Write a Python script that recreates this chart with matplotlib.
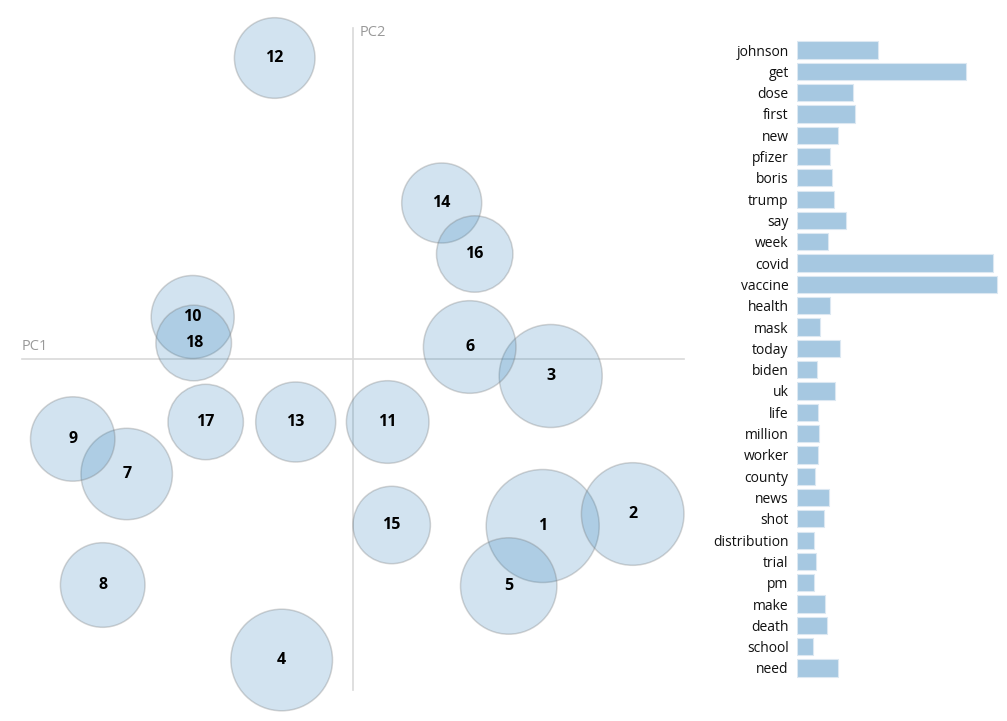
import matplotlib
matplotlib.use("Agg")
import matplotlib.pyplot as plt
from matplotlib.patches import Circle

# topic map: PC1 / PC2 coordinates and circle radius (same units)
topics = [1, 2, 3, 4, 5, 6, 7, 8, 9, 10, 11, 12, 13, 14, 15, 16, 17, 18]
pc1 = [0.190, 0.280, 0.198, -0.071, 0.156, 0.117, -0.226, -0.250, -0.280, -0.160,
       0.035, -0.078, -0.057, 0.089, 0.039, 0.122, -0.147, -0.159]
pc2 = [-0.167, -0.155, -0.017, -0.301, -0.227, 0.012, -0.115, -0.226, -0.080, 0.042,
       -0.063, 0.301, -0.063, 0.156, -0.166, 0.105, -0.063, 0.016]
radius = [0.0565, 0.0513, 0.0515, 0.0508, 0.0482, 0.0463, 0.0457, 0.0423, 0.0422, 0.0415,
          0.0413, 0.0403, 0.0400, 0.0400, 0.0387, 0.0382, 0.0377, 0.0378]

# top terms, overall frequency
terms = ["johnson", "get", "dose", "first", "new", "pfizer", "boris", "trump", "say", "week",
         "covid", "vaccine", "health", "mask", "today", "biden", "uk", "life", "million", "worker",
         "county", "news", "shot", "distribution", "trial", "pm", "make", "death", "school", "need"]
freq = [81, 169, 55.6, 57.6, 40.6, 33, 34.6, 37, 49.3, 30.6,
        196, 200, 33, 22.6, 43.3, 20, 38, 20.6, 21.6, 21.3,
        18, 32, 26.6, 17, 18.6, 16.6, 28.3, 30, 16, 40.6]

W, H = 1007, 721
fig = plt.figure(figsize=(W / 100, H / 100), dpi=100)

# ---- inter-topic distance map ----
ax = fig.add_axes([0, 0, 700 / W, 1])
ax.set_xlim(-0.3527, 0.3473)
ax.set_ylim(-0.362, 0.359)
ax.axis("off")

ax.plot([-0.331, 0.331], [0, 0], color="#d9d9d9", lw=1.2, zorder=0)
ax.plot([0, 0], [-0.331, 0.331], color="#d9d9d9", lw=1.2, zorder=0)
ax.text(-0.331, 0.005, "PC1", color="#999999", fontsize=10.5, family="Open Sans",
        ha="left", va="bottom")
ax.text(0.007, 0.327, "PC2", color="#999999", fontsize=10.5, family="Open Sans",
        ha="left", va="center")

for t, x, y, r in zip(topics, pc1, pc2, radius):
    ax.add_patch(Circle((x, y), r, facecolor=(0.122, 0.467, 0.706, 0.2),
                        edgecolor=(0.45, 0.45, 0.45, 0.3), lw=1.1))
    ax.text(x, y, str(t), ha="center", va="center", fontsize=11.5,
            fontweight="bold", family="Open Sans", color="#000000")

# ---- term bar chart ----
bx = fig.add_axes([797 / W, 1 - 678.65 / H, 210 / W, 639.3 / H])
ypos = list(range(len(terms)))
bx.barh(ypos, freq, height=0.81, color="#a6c8e1", edgecolor="#dce8f2", lw=0.8)
bx.set_xlim(0, 210)
bx.set_ylim(len(terms) - 0.5, -0.5)
bx.set_yticks(ypos)
bx.set_yticklabels(terms, family="Open Sans", fontsize=10, color="#111111")
bx.tick_params(axis="y", length=0, pad=6)
bx.set_xticks([])
for s in bx.spines.values():
    s.set_visible(False)

fig.savefig("out.png", dpi=100)
